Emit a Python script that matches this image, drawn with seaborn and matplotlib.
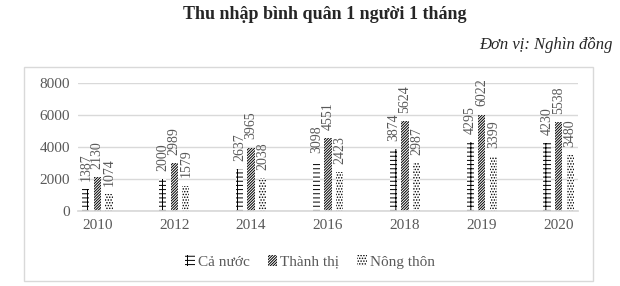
import pandas as pd
import matplotlib.pyplot as plt
import seaborn as sns
from matplotlib.patches import Patch, Rectangle

# Data
years = ['2010', '2012', '2014', '2016', '2018', '2019', '2020']
ca_nuoc = [1387, 2000, 2637, 3098, 3874, 4295, 4230]
thanh_thi = [2130, 2989, 3965, 4551, 5624, 6022, 5538]
nong_thon = [1074, 1579, 2038, 2423, 2987, 3399, 3480]
series = ['Cả nước', 'Thành thị', 'Nông thôn']
hatches = ['----||', '/' * 12, '.' * 6]

df = pd.DataFrame({
    'Năm': years * 3,
    'Giá trị': ca_nuoc + thanh_thi + nong_thon,
    'Khu vực': [s for s in series for _ in years],
})

sns.set_theme(style='white')
plt.rcParams['font.family'] = ['Liberation Serif', 'DejaVu Serif']
plt.rcParams['hatch.linewidth'] = 0.7
plt.rcParams['hatch.color'] = 'black'

fig = plt.figure(figsize=(6.2, 2.86), dpi=100)
ax = fig.add_axes([0.126, 0.262, 0.806, 0.448])

sns.barplot(data=df, x='Năm', y='Giá trị', hue='Khu vực', hue_order=series,
            width=0.45, palette=['white'] * 3, legend=False,
            edgecolor='black', linewidth=0, ax=ax)

grey = '#595959'
for cont, h in zip(ax.containers, hatches):
    for bar in cont:
        cx = bar.get_x() + bar.get_width() / 2
        bar.set_width(0.095)
        bar.set_x(cx - 0.0475)
        bar.set_hatch(h)
        bar.set_facecolor('white')
        bar.set_edgecolor('black')
    ax.bar_label(cont, rotation=90, padding=6, fontsize=10, color=grey, clip_on=False)

ax.set_ylim(0, 8000)
ax.set_xlim(-0.25, 6.25)
ax.set_yticks([0, 2000, 4000, 6000, 8000])
ax.grid(axis='y', color='#d9d9d9', linewidth=1)
ax.set_axisbelow(True)
sns.despine(ax=ax, left=True, bottom=False)
ax.spines['bottom'].set_color('#d9d9d9')
ax.tick_params(axis='both', length=0, labelsize=11, labelcolor=grey, pad=6)
ax.set_xlabel('')
ax.set_ylabel('')

handles = [Patch(facecolor='white', edgecolor='black', linewidth=0, hatch=h, label=s)
           for s, h in zip(series, hatches)]
fig.legend(handles=handles, loc='center', bbox_to_anchor=(0.5, 0.085), ncol=3,
           frameon=False, fontsize=11, handlelength=0.6, handleheight=0.7,
           handletextpad=0.2, columnspacing=1.2, labelcolor=grey)

fig.text(0.523, 0.95, 'Thu nhập bình quân 1 người 1 tháng', ha='center', va='center',
         fontsize=13, fontweight='bold')
fig.text(0.988, 0.843, 'Đơn vị: Nghìn đồng', ha='right', va='center',
         fontsize=12, style='italic')

fig.patches.append(Rectangle((0.039, 0.017), 0.918, 0.748, transform=fig.transFigure,
                             fill=False, edgecolor='#d9d9d9', linewidth=1))

fig.savefig('out.png', dpi=100)
